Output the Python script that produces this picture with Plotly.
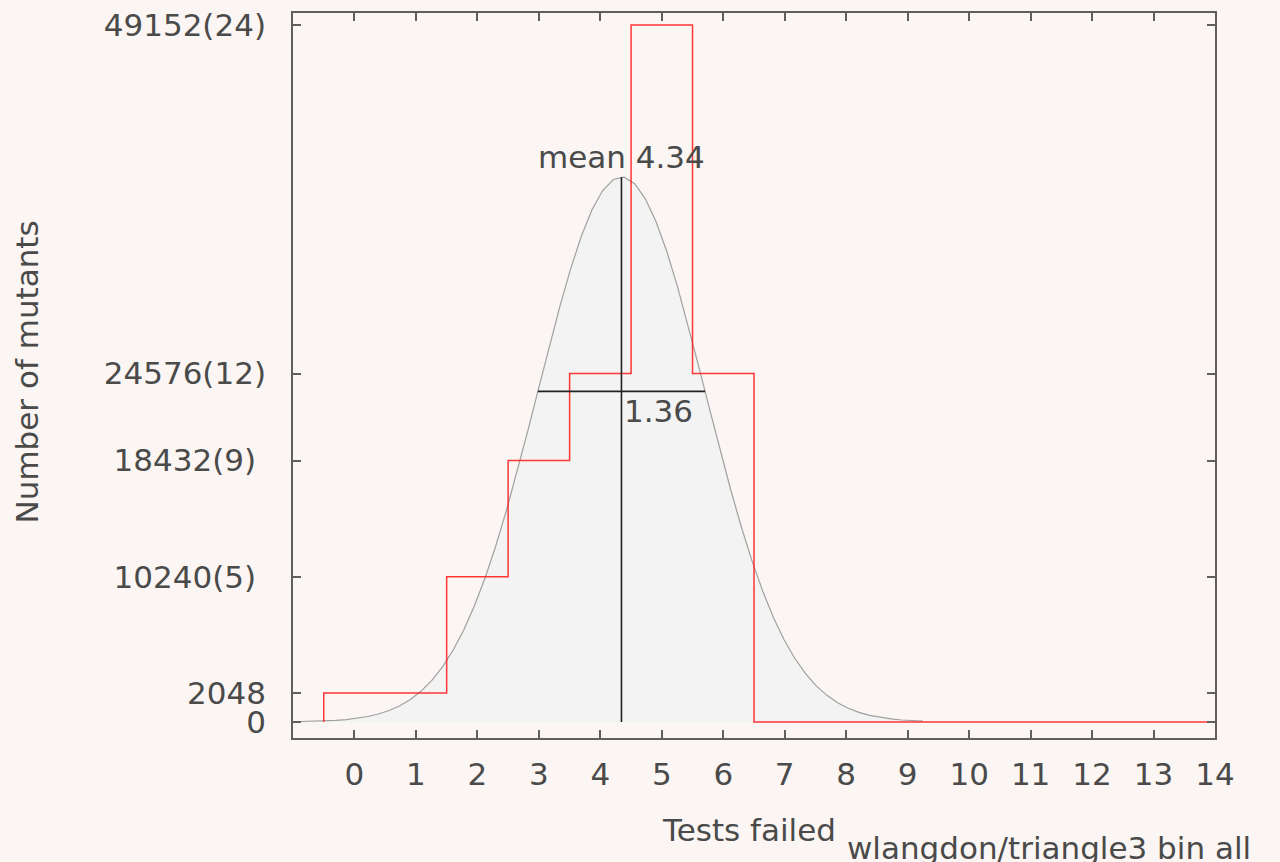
import numpy as np
import plotly.graph_objects as go

# ---- data ----
tests_failed = list(range(0, 15))                      # categories 0..14
units = [1, 1, 5, 9, 12, 24, 12, 0, 0, 0, 0, 0, 0, 0, 0]  # mutants in units of 2048
unit_size = 2048
y_tickvals = [0, 2048, 10240, 18432, 24576, 49152]
y_ticktext = ["0", "2048", "10240(5)\u00a0", "18432(9)\u00a0", "24576(12)", "49152(24)"]
x_tickvals = list(range(0, 15))

counts = np.array(units) * unit_size
cats = np.array(tests_failed)
total = counts.sum()
mean = (cats * counts).sum() / total
sd = np.sqrt(((cats - mean) ** 2 * counts).sum() / total)

# normal curve fitted to histogram (mean, sd, total)
gx = np.linspace(-1.0, 9.25, 60)
gy = total / (sd * np.sqrt(2 * np.pi)) * np.exp(-0.5 * ((gx - mean) / sd) ** 2)
peak = total / (sd * np.sqrt(2 * np.pi))
sd_y = peak * np.exp(-0.5)

# step outline
step_x = [cats[0] - 0.5] + [c - 0.5 for c in cats] + [cats[-1]]
step_y = [0] + list(counts) + [counts[-1]]

FONT = "DejaVu Sans"
TXT = "#4a4a4a"
AX = "#5f5f5f"
BG = "#fbf6f3"
FS = 31

fig = go.Figure()
fig.add_trace(go.Scatter(x=gx, y=gy, mode="lines", fill="tozeroy",
                         fillcolor="#f3f3f3", line=dict(color="#a0a0a0", width=1.2),
                         hoverinfo="skip", showlegend=False))
fig.add_trace(go.Scatter(x=step_x, y=step_y, mode="lines", line_shape="hv",
                         line=dict(color="rgba(255,20,20,0.85)", width=1.5),
                         showlegend=False))
fig.add_trace(go.Scatter(x=[mean, mean], y=[0, peak], mode="lines",
                         line=dict(color="#222222", width=1.6), showlegend=False))
fig.add_trace(go.Scatter(x=[mean - sd, mean + sd], y=[sd_y, sd_y], mode="lines",
                         line=dict(color="#222222", width=1.6), showlegend=False))

fig.add_annotation(x=mean, y=peak, xref="x", yref="y", text=f"mean {mean:.2f}",
                   showarrow=False, xanchor="center", yanchor="bottom",
                   font=dict(family=FONT, size=FS, color=TXT))
fig.add_annotation(x=mean, y=sd_y, xref="x", yref="y", text=f"{sd:.2f}",
                   showarrow=False, xanchor="left", yanchor="top", xshift=1,
                   font=dict(family=FONT, size=FS, color=TXT))

fig.add_annotation(x=0.4946, y=-0.127, xref="paper", yref="paper", text="Tests failed",
                   showarrow=False, xanchor="center", yanchor="middle",
                   font=dict(family=FONT, size=FS, color=TXT))
fig.add_annotation(x=0.5987, y=-0.152, xref="paper", yref="paper",
                   text="wlangdon/triangle3 bin all",
                   showarrow=False, xanchor="left", yanchor="middle",
                   font=dict(family=FONT, size=FS, color=TXT))
fig.add_annotation(x=-0.289, y=0.505, xref="paper", yref="paper", text="Number of mutants",
                   showarrow=False, xanchor="center", yanchor="middle", textangle=-90,
                   font=dict(family=FONT, size=FS, color=TXT))

fig.update_xaxes(range=[-1, 14], tickvals=x_tickvals, ticks="inside", ticklen=8,
                 tickcolor=AX, tickwidth=1.5, showline=True, linecolor=AX, linewidth=1.6,
                 mirror="ticks", showgrid=False, zeroline=False, automargin=False,
                 tickfont=dict(family=FONT, size=FS, color=TXT), ticklabelstandoff=8)
fig.update_yaxes(range=[-1130, 50000], tickvals=y_tickvals, ticktext=y_ticktext,
                 ticks="inside", ticklen=8, tickcolor=AX, tickwidth=1.5,
                 showline=True, linecolor=AX, linewidth=1.6, mirror="ticks",
                 showgrid=False, zeroline=False, automargin=False,
                 tickfont=dict(family=FONT, size=FS, color=TXT), ticklabelstandoff=19)

fig.update_layout(width=1280, height=862, paper_bgcolor=BG, plot_bgcolor=BG,
                  margin=dict(l=293, r=65, t=13, b=124), showlegend=False)

fig.write_html("out.html", config={"displayModeBar": False},
               post_script=f"document.body.style.margin='0';"
                           f"document.body.style.background='{BG}';"
                           f"document.documentElement.style.background='{BG}';")
